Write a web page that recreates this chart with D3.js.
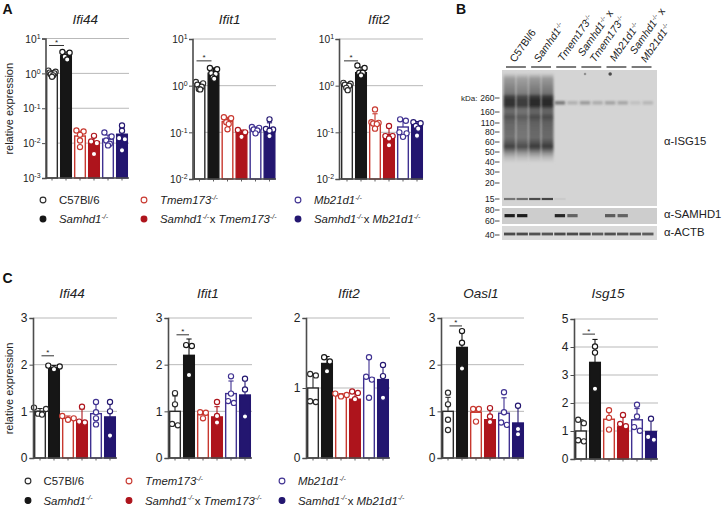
<!DOCTYPE html>
<html><head><meta charset="utf-8">
<script src="https://cdn.jsdelivr.net/npm/d3@7"></script>
<style>
html,body{margin:0;padding:0;background:#fff}
svg{display:block;font-family:"Liberation Sans",Arial,sans-serif}
</style></head><body><svg id="c" width="726" height="508"></svg>
<script>
const groups=["C57Bl/6","Samhd1","Tmem173","Samhd1 x Tmem173","Mb21d1","Samhd1 x Mb21d1"];
const strokeColors=["#2a2a2a","#161616","#c8382f","#ae141c","#3f3191","#231670"];
const fillColors=["#fff","#161616","#fff","#ae141c","#fff","#231670"];

// Panel A (log scale)
const aIfi44Means=[1,3.2,0.016,0.011,0.013,0.018];
const aIfi44Err=[1.2,4.1,0.022,0.015,0.017,0.027];
const aIfi44Dots=[[1.2,1.12,1.05,1,0.95,0.88,0.8],[4.1,3.9,3.0,2.5],[0.0215,0.023,0.0173,0.0119,0.0077],[0.0162,0.0112,0.01,0.0049],[0.0202,0.0155,0.0119,0.0096,0.0086],[0.032,0.0226,0.0139,0.013,0.0062]];
const aIfit1Means=[1,1.85,0.17,0.1,0.115,0.115];
const aIfit1Err=[1.15,2.4,0.21,0.112,0.13,0.16];
const aIfit1Dots=[[1.2,1.12,1.05,0.95,0.85,0.83],[2.4,2.25,1.85,1.78,1.5,1.4],[0.21,0.2,0.165,0.15,0.116],[0.112,0.1,0.08],[0.13,0.125,0.115,0.11,0.095],[0.19,0.118,0.115,0.108,0.083]];
const aIfit2Means=[1,1.9,0.16,0.09,0.13,0.15];
const aIfit2Err=[1.15,2.5,0.25,0.125,0.175,0.17];
const aIfit2Dots=[[1.15,1.1,1.05,1,0.9,0.8],[2.7,2.4,1.9,1.9,1.65],[0.31,0.165,0.16,0.155,0.15,0.12],[0.137,0.083,0.083,0.074,0.053],[0.19,0.177,0.1,0.095,0.08],[0.165,0.157,0.137,0.12,0.085]];

// Panel C (linear scale)
const cIfi44Means=[1,1.93,0.85,0.77,0.95,0.88];
const cIfi44Err=[1.06,1.98,0.9,1.05,1.18,1.2];
const cIfi44Dots=[[1.08,1.05,0.95,0.93],[1.98,1.96,1.9],[0.9,0.85,0.82],[1.1,0.78,0.76],[1.2,0.98,0.85,0.72],[1.2,1.0,0.48]];
const cIfit1Means=[1,2.2,0.93,0.88,1.38,1.35];
const cIfit1Err=[1.33,2.55,0.98,1.1,1.65,1.7];
const cIfit1Dots=[[1.39,1.15,0.73,0.7],[2.42,2.4,1.78],[0.98,0.97,0.85],[1.2,0.9,0.76],[1.75,1.38,1.22,1.18],[1.7,1.47,0.89]];
const cIfit2Means=[1,1.35,0.89,0.84,1.14,1.12];
const cIfit2Err=[1.2,1.45,0.92,0.95,1.44,1.32];
const cIfit2Dots=[[1.2,1.18,0.81,0.8],[1.44,1.38,1.24],[0.92,0.9,0.88],[0.95,0.93,0.84],[1.44,1.16,1.12,0.86],[1.33,1.17,0.86]];
const cOasl1Means=[1,2.37,0.98,0.82,0.96,0.75];
const cOasl1Err=[1.3,2.75,1.05,1.05,1.29,1.12];
const cOasl1Dots=[[1.4,1.15,0.82,0.6],[2.72,2.47,1.92],[1.05,1.05,0.78],[1.07,0.89,0.77],[1.41,0.98,0.76,0.71],[1.12,0.62,0.51]];
const cIsg15Means=[1,3.45,1.42,1.15,1.4,0.98];
const cIsg15Err=[1.4,4.27,1.76,1.5,1.8,1.4];
const cIsg15Dots=[[1.4,1.28,0.67,0.63],[4.02,3.8,2.51],[1.74,1.47,1.05],[1.57,1.25,1.17],[1.94,1.52,1.14,1.01],[1.44,0.79,0.69]];

// Panel B (western blot, darkness 0-1)
const laneNames=["1","2","3","4","5","6","7","8","9","10","11","12"];
const kdaTicks=[260,160,110,80,60,50,40,30,20,15];
const smearProfile=[[620,0],[510,.35],[380,.48],[300,.58],[280,.88],[240,1],[200,1],[175,.66],[155,.66],[135,.82],[120,.72],[100,.66],[80,.64],[68,.62],[59,.78],[55,.92],[52,.66],[48.5,.38],[44,.15],[39,0]];
const smearLane=[.95,.88,1,1];
const isgBand220=[0,0,0,0,.55,.22,.35,.25,.3,.28,.12,.18];
const isgBand15=[.55,.6,.8,.85,.06,0,0,0,0,0,0,0];
const samhdBand=[1,1,0,0,.95,.6,0,0,.65,.6,0,0];
const actbBand=[.85,.85,.82,.8,.85,.85,.85,.75,.82,.8,.78,.75];
const spotLanes=["7","9"];
const spotDark=[.4,.8];

const svg=d3.select("#c");
const AXIS="#4d4d4d",GRID="#b9b9b9",TXT="#222";

const defs=svg.append("defs");
[["b05",.5],["b08",.8],["b14",1.4],["t04",.35]].forEach(([id,s])=>{
  defs.append("filter").attr("id",id).attr("x","-30%").attr("y","-60%").attr("width","160%").attr("height","220%")
    .append("feGaussianBlur").attr("stdDeviation",s);
});
defs.append("clipPath").attr("id","blotClip").append("rect").attr("x",502).attr("y",70).attr("width",155).attr("height",136);

function gene(sel,x,y,t,size){
  sel.append("text").attr("x",x).attr("y",y).attr("text-anchor","middle").attr("font-style","italic")
    .attr("font-size",size).attr("fill",TXT).text(t);
}
function swarmOffsets(vals,yScale,r,maxHalf){
  const px=vals.map((v,i)=>({i,y:yScale(v)})).sort((a,b)=>a.y-b.y);
  const off=new Array(vals.length).fill(0);
  let g=[px[0]];
  const flush=()=>{
    const n=g.length;
    if(n>1){
      const step=Math.min(2*r*1.1,2*maxHalf/(n-1));
      g.forEach((d,k)=>{
        const rank=k%2===0?-(n-1)/2+k/2:(n-1)/2-(k-1)/2;
        off[d.i]=rank*step;
      });
    }
  };
  for(let k=1;k<px.length;k++){
    if(px[k].y-px[k-1].y<2*r-.4) g.push(px[k]); else {flush();g=[px[k]];}
  }
  flush();
  return off;
}
function panel(o){
  const g=svg.append("g");
  const y=o.log?d3.scaleLog().domain([o.min,o.max]).range([o.bottom,o.top])
               :d3.scaleLinear().domain([0,o.max]).range([o.bottom,o.top]);
  const x0=o.x0===undefined?o.x:o.x0;
  const x=d3.scaleBand().domain(groups).range([x0,x0+84]).paddingInner(.14).paddingOuter(.07);
  const base=o.bottom;
  g.selectAll(".gr").data(o.grid).join("line").attr("x1",o.x).attr("x2",o.right)
    .attr("y1",d=>y(d)).attr("y2",d=>y(d)).attr("stroke",GRID).attr("stroke-width",1);
  g.selectAll(".bar").data(o.means).join("rect")
    .attr("x",(d,i)=>x(groups[i])+.7).attr("width",x.bandwidth()-1.4)
    .attr("y",d=>y(d)).attr("height",d=>base-y(d))
    .attr("fill",(d,i)=>fillColors[i]).attr("stroke",(d,i)=>strokeColors[i]).attr("stroke-width",1.4);
  o.err.forEach((e,i)=>{
    const cx=x(groups[i])+x.bandwidth()/2;
    const ee=g.append("g").attr("stroke",strokeColors[i]).attr("stroke-width",1.1);
    ee.append("line").attr("x1",cx).attr("x2",cx).attr("y1",y(o.means[i])).attr("y2",y(e));
    ee.append("line").attr("x1",cx-2.6).attr("x2",cx+2.6).attr("y1",y(e)).attr("y2",y(e));
  });
  o.dots.forEach((vals,i)=>{
    const cx=x(groups[i])+x.bandwidth()/2;
    const off=swarmOffsets(vals,y,o.r,o.log?3.6:x.bandwidth()/2);
    g.selectAll(null).data(vals).join("circle")
      .attr("cx",(d,k)=>cx+off[k]).attr("cy",d=>y(d)).attr("r",o.r)
      .attr("fill","#fff").attr("stroke",strokeColors[i]).attr("stroke-width",1.15);
  });
  const ax=o.log?d3.axisLeft(y).tickValues(o.grid.concat([o.min])).tickFormat(""):d3.axisLeft(y).tickValues(d3.range(0,o.max+1)).tickFormat(d3.format("d"));
  const ga=g.append("g").attr("transform",`translate(${o.x},0)`).call(ax.tickSize(3.5).tickPadding(2));
  ga.select(".domain").attr("stroke",AXIS).attr("stroke-width",1.6);
  ga.selectAll(".tick line").attr("stroke",AXIS).attr("stroke-width",1);
  ga.selectAll(".tick text").attr("font-size",o.tickSize).attr("font-family","Liberation Sans").attr("fill",TXT);
  if(o.log){
    ga.selectAll(".tick").each(function(d){
      const t=d3.select(this).select("text").attr("x",-5).attr("dy",".36em");
      const e=Math.round(Math.log10(d));
      t.append("tspan").text("10");
      t.append("tspan").attr("font-size",o.tickSize*.68).attr("dy","-0.55em").text(String(e));
    });
  }
  const xa=d3.axisBottom(x).tickSize(2.5).tickFormat("");
  const gx=g.append("g").attr("transform",`translate(0,${base})`).call(xa);
  gx.select(".domain").attr("stroke",AXIS).attr("stroke-width",1.3).attr("d",`M${o.x},0H${o.right}`);
  gx.selectAll(".tick line").attr("stroke",AXIS).attr("stroke-width",.9);
  if(o.sig){
    const cx0=x(groups[0])+x.bandwidth()/2,cx1=x(groups[1])+x.bandwidth()/2;
    const l=cx0+o.sigL,r=cx1+o.sigR;
    g.append("line").attr("x1",l).attr("x2",r).attr("y1",y(o.sig)).attr("y2",y(o.sig)).attr("stroke","#333").attr("stroke-width",1);
    g.append("text").attr("x",(l+r)/2).attr("y",y(o.sig)-.5).attr("text-anchor","middle").attr("font-size",8).attr("fill",TXT).text("*");
  }
  gene(g,(o.x+o.right)/2+(o.titleDx||0),o.titleY,o.title,o.titleSize);
  if(o.ylabel){
    g.append("text").attr("transform",`translate(${o.ylabelX},${(o.top+o.bottom)/2+.5}) rotate(-90)`).attr("text-anchor","middle")
      .attr("font-size",11).attr("fill",TXT).text(o.ylabel);
  }
}
const aBase={log:true,min:.001,max:10,r:2.6,tickSize:10.2,titleSize:13.5,titleY:24,sigL:-3,sigR:-2};
panel({...aBase,title:"Ifi44",x:45.5,x0:45,right:129,top:38.5,bottom:178,means:aIfi44Means,err:aIfi44Err,dots:aIfi44Dots,grid:[10,1,.1,.01],sig:6.3,ylabel:"relative expression",ylabelX:13,titleDx:-2});
panel({...aBase,min:.01,title:"Ifit1",x:192.5,right:276,top:39,bottom:179,means:aIfit1Means,err:aIfit1Err,dots:aIfit1Dots,grid:[10,1,.1],sig:3.4,titleDx:-4.5});
panel({...aBase,min:.01,title:"Ifit2",x:339,x0:340,right:423,top:39,bottom:179,means:aIfit2Means,err:aIfit2Err,dots:aIfit2Dots,grid:[10,1,.1],sig:3.4,sigR:-3,titleDx:-2});
const cBase={log:false,r:2.6,tickSize:12,titleSize:13.5,titleY:298,sigL:1.5,sigR:0};
panel({...cBase,title:"Ifi44",x:33,right:117,top:318,bottom:458,max:3,means:cIfi44Means,err:cIfi44Err,dots:cIfi44Dots,grid:[3,2,1],sig:2.19,ylabel:"relative expression",ylabelX:12.5,titleDx:-3});
panel({...cBase,title:"Ifit1",x:168,right:252,top:318,bottom:458,max:3,means:cIfit1Means,err:cIfit1Err,dots:cIfit1Dots,grid:[3,2,1],sig:2.64,titleDx:-2});
panel({...cBase,title:"Ifit2",x:306,right:390,top:318,bottom:458,max:2,means:cIfit2Means,err:cIfit2Err,dots:cIfit2Dots,grid:[2,1],titleDx:1});
panel({...cBase,title:"Oasl1",x:441,right:524,top:318,bottom:458,max:3,means:cOasl1Means,err:cOasl1Err,dots:cOasl1Dots,grid:[3,2,1],sig:2.83,titleDx:-1.5});
panel({...cBase,title:"Isg15",x:574,right:658,top:319,bottom:459,max:5,means:cIsg15Means,err:cIsg15Err,dots:cIsg15Dots,grid:[5,4,3,2,1],sig:4.46,titleDx:-8});

[["A",2.5,13.5],["B",456,13.5],["C",2.5,283]].forEach(([t,x,y])=>svg.append("text").attr("x",x).attr("y",y).attr("font-weight","bold").attr("font-size",14).attr("fill","#111").text(t));

function genoLabel(sel,x,y,parts,size){
  const t=sel.append("text").attr("x",x).attr("y",y).attr("font-size",size).attr("fill",TXT);
  parts.forEach(p=>{
    if(p==="x") t.append("tspan").text("x ");
    else if(p==="C57Bl/6") t.append("tspan").text(p);
    else {
      t.append("tspan").attr("font-style","italic").text(p);
      t.append("tspan").attr("font-size",size*.62).attr("dy",-size*.38).attr("font-style","italic").text("-/-");
      t.append("tspan").attr("font-size",size*.62).attr("dy",size*.38).text("\u200a");
    }
  });
}
function legend(dy,cols,size,r){
  const rows=[[["C57Bl/6"],0],[["Samhd1"],1],[["Tmem173"],2],[["Samhd1","x","Tmem173"],3],[["Mb21d1"],4],[["Samhd1","x","Mb21d1"],5]];
  rows.forEach(([p,i])=>{
    const c=Math.floor(i/2),row=i%2;
    const yy=dy+row*cols.rowH;
    svg.append("circle").attr("cx",cols.dot[c]).attr("cy",yy).attr("r",r)
      .attr("fill",i%2?strokeColors[i]:"#fff").attr("stroke",strokeColors[i]).attr("stroke-width",1.1);
    genoLabel(svg,cols.text[c],yy+4,p,size);
  });
}
legend(200,{dot:[43,144,298],text:[59,160,314],rowH:19},11.4,2.9);
legend(481,{dot:[28,129,282],text:[43.5,145,298],rowH:19.5},11.4,2.9);

// blot
const lane=d3.scaleBand().domain(laneNames).range([504,653.5]).paddingInner(.1);
const yKda=d3.scaleLog().domain(kdaTicks).range([98,112,123,132,142,152,162,172,183,199]);
const bl=svg.append("g");
const grey=d3.scaleLinear().domain([0,1]).range(["#d4d4d4","#2a2a2a"]);
const membranes=[[70,136,"#d4d4d4"],[208,16,"#cdcdcd"],[226,14,"#dadada"]];
bl.selectAll(".m").data(membranes).join("rect").attr("x",502).attr("width",155)
  .attr("y",d=>d[0]).attr("height",d=>d[1]).attr("fill",d=>d[2]);
const isg=bl.append("g").attr("clip-path","url(#blotClip)");
const yTop=yKda(smearProfile[0][0]),yBot=yKda(smearProfile[smearProfile.length-1][0]);
smearLane.forEach((l,i)=>{
  const n=laneNames[i],id="smear"+i;
  const grad=defs.append("linearGradient").attr("id",id).attr("x1",0).attr("x2",0).attr("y1",0).attr("y2",1);
  smearProfile.forEach(([k,v])=>{
    grad.append("stop").attr("offset",(yKda(k)-yTop)/(yBot-yTop)).attr("stop-color",grey(v*l));
  });
  isg.append("rect").attr("x",lane(n)-.5).attr("width",lane.bandwidth()+1).attr("y",yTop).attr("height",yBot-yTop)
    .attr("fill",`url(#${id})`).attr("filter","url(#b08)");
});
isgBand220.forEach((v,i)=>{
  if(!v) return;
  isg.append("rect").attr("x",lane(laneNames[i])+.5).attr("width",lane.bandwidth()-1)
    .attr("y",yKda(220)-1.7).attr("height",3.4).attr("fill",grey(v)).attr("filter","url(#b08)");
});
isgBand15.forEach((v,i)=>{
  if(!v) return;
  isg.append("rect").attr("x",lane(laneNames[i])).attr("width",lane.bandwidth())
    .attr("y",yKda(15)-1.1).attr("height",2.2).attr("fill",grey(v)).attr("filter","url(#t04)");
});
spotLanes.forEach((n,i)=>{
  isg.append("circle").attr("cx",lane(n)+lane.bandwidth()/2).attr("cy",yKda(620)+1).attr("r",.8+1.2*spotDark[i])
    .attr("fill",grey(spotDark[i])).attr("filter","url(#b05)");
});
const ySam=d3.scaleLog().domain([80,60]).range([210,221]);
samhdBand.forEach((v,i)=>{
  if(!v) return;
  bl.append("rect").attr("x",lane(laneNames[i])+.5).attr("width",lane.bandwidth()-1)
    .attr("y",ySam(69)-1.6).attr("height",3.2).attr("fill",d3.interpolateRgb("#cdcdcd","#1e1e1e")(v)).attr("filter","url(#t04)");
});
const yAct=d3.scaleLog().domain([50,40]).range([226,235]);
actbBand.forEach((v,i)=>{
  bl.append("rect").attr("x",lane(laneNames[i])).attr("width",lane.bandwidth())
    .attr("y",yAct(41)-1.4).attr("height",2.8).attr("fill",d3.interpolateRgb("#dadada","#333")(v)).attr("filter","url(#t04)");
});
function kdaLabel(k,yy){
  bl.append("line").attr("x1",495).attr("x2",499.5).attr("y1",yy).attr("y2",yy).attr("stroke","#333").attr("stroke-width",.9);
  bl.append("text").attr("x",494.5).attr("y",yy+3).attr("text-anchor","end").attr("font-size",8.6).attr("fill",TXT).text(k);
}
kdaTicks.forEach(k=>kdaLabel(k,yKda(k)));
kdaLabel(80,ySam(80));kdaLabel(60,ySam(60));kdaLabel(40,yAct(40));
bl.append("text").attr("x",461).attr("y",yKda(260)+3).attr("font-size",8).attr("fill",TXT).text("kDa:");
[["ISG15",145],["SAMHD1",218],["ACTB",236]].forEach(([t,yy])=>{
  bl.append("text").attr("x",664).attr("y",yy).attr("font-size",11.3).attr("fill",TXT).text("\u03b1-"+t);
});
const headers=[[["C57Bl/6"],515,63],[["Samhd1"],539,63],[["Tmem173"],563,62],[["Samhd1","x"],583,57],[["Tmem173"],595,63],[["Mb21d1"],615,62],[["Samhd1","x"],635,55],[["Mb21d1"],646,63]];
headers.forEach(([p,x,y])=>{
  const t=bl.append("text").attr("transform",`translate(${x},${y}) rotate(-55)`).attr("font-size",10.5).attr("fill",TXT);
  const isWT=p[0]==="C57Bl/6";
  t.append("tspan").attr("font-style",isWT?"normal":"italic").text(p[0]);
  if(!isWT){
    t.append("tspan").attr("font-size",6.4).attr("dy",-3.6).text("-/-");
    if(p[1]) t.append("tspan").attr("font-size",10.5).attr("dy",3.6).text(" x");
  }
});
const pairs=[[0,1],[2,3],[4,5],[6,7],[8,9],[10,11]];
pairs.forEach(([a,b])=>{
  bl.append("line").attr("x1",lane(laneNames[a])+2).attr("x2",lane(laneNames[b])+lane.bandwidth()-2)
    .attr("y1",67).attr("y2",67).attr("stroke","#222").attr("stroke-width",1.2);
});
</script></body></html>
